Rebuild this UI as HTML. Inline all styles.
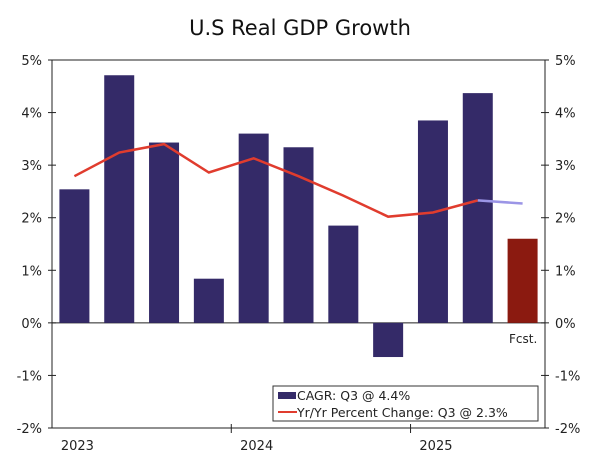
<!DOCTYPE html>
<html><head><meta charset="utf-8"><style>
body{margin:0;background:#fff;}
svg{display:block;font-family:"DejaVu Sans","Liberation Sans",sans-serif;}
</style></head><body>
<svg id="chart" width="600" height="460">
<text x="300" y="35" text-anchor="middle" font-size="21" fill="#111">U.S Real GDP Growth</text>
<g id="axes"></g><g id="bars"></g><g id="lines"></g>
<g>
<rect x="273" y="386" width="265" height="35" fill="#fff" stroke="#333" stroke-width="1"/>
<rect x="278" y="392" width="18" height="7" fill="#342a68"/>
<text x="297" y="400" font-size="12.5" fill="#222">CAGR: Q3 @ 4.4%</text>
<line x1="278" y1="412" x2="297" y2="412" stroke="#e03c2e" stroke-width="2"/>
<text x="297" y="417" font-size="12.5" fill="#222">Yr/Yr Percent Change: Q3 @ 2.3%</text>
</g>
<text x="509" y="343" font-size="12" fill="#222">Fcst.</text>
</svg>
<script>
const cagr=[2.54,4.71,3.43,0.84,3.6,3.34,1.85,-0.65,3.85,4.37,1.6];
const forecastFlags=[0,0,0,0,0,0,0,0,0,0,1];
const yoy=[2.79,3.24,3.4,2.86,3.13,2.79,2.42,2.02,2.1,2.33];
const yoyForecast=[2.33,2.27];
const yTicks=[-2,-1,0,1,2,3,4,5];
const years=["2023","2024","2025"];
const yearStartIdx=[0,4,8];
const L=52,R=545,T=60,B=428,ymin=-2,ymax=5,n=11;
const step=(R-L)/n;
const y=v=>B-(v-ymin)/(ymax-ymin)*(B-T);
const x=i=>L+step*(i+0.5);
const NS="http://www.w3.org/2000/svg";
function mk(tag,attrs,parent){const e=document.createElementNS(NS,tag);for(const k in attrs)e.setAttribute(k,attrs[k]);parent.appendChild(e);return e;}
const ax=document.getElementById('axes'),bg=document.getElementById('bars'),lg=document.getElementById('lines');
let fr=mk('rect',{x:L,y:T,width:R-L,height:B-T,fill:'none',stroke:'#222','stroke-width':1},ax);


yTicks.forEach(t=>{
 const yy=y(t);
 mk('line',{x1:L-4,x2:L+4,y1:yy,y2:yy,stroke:'#222'},ax);
 mk('line',{x1:R-4,x2:R+4,y1:yy,y2:yy,stroke:'#222'},ax);
 let a=mk('text',{x:L-10,y:yy+5,'text-anchor':'end','font-size':13,fill:'#222'},ax);a.textContent=t+'%';
 
 
 let b=mk('text',{x:R+10,y:yy+5,'font-size':13,fill:'#222'},ax);b.textContent=t+'%';
 
 
});
mk('line',{x1:L,x2:R,y1:y(0),y2:y(0),stroke:'#222'},ax);
years.forEach((yr,k)=>{
 const i=yearStartIdx[k];
 if(i>0){mk('line',{x1:L+step*i,x2:L+step*i,y1:B-4,y2:B+5,stroke:'#222'},ax);}
 let t=mk('text',{x:x(i)+3,y:B+22,'text-anchor':'middle','font-size':13,fill:'#222'},ax);t.textContent=yr;
 
 
});
const bw=30;
cagr.forEach((v,i)=>{
 const r=mk('rect',{x:x(i)-bw/2,y:Math.min(y(v),y(0)),width:bw,height:Math.abs(y(v)-y(0)),fill:forecastFlags[i]?'#8b1a10':'#342a68'},bg);
 
 
});
const p=mk('polyline',{points:yoy.map((v,i)=>x(i)+','+y(v)).join(' '),fill:'none',stroke:'#e03c2e','stroke-width':2.5},lg);


const s=yoy.length-1;
const f=mk('polyline',{points:yoyForecast.map((v,i)=>x(s+i)+','+y(v)).join(' '),fill:'none',stroke:'#9b95e6','stroke-width':2.5},lg);


</script>
</body></html>
